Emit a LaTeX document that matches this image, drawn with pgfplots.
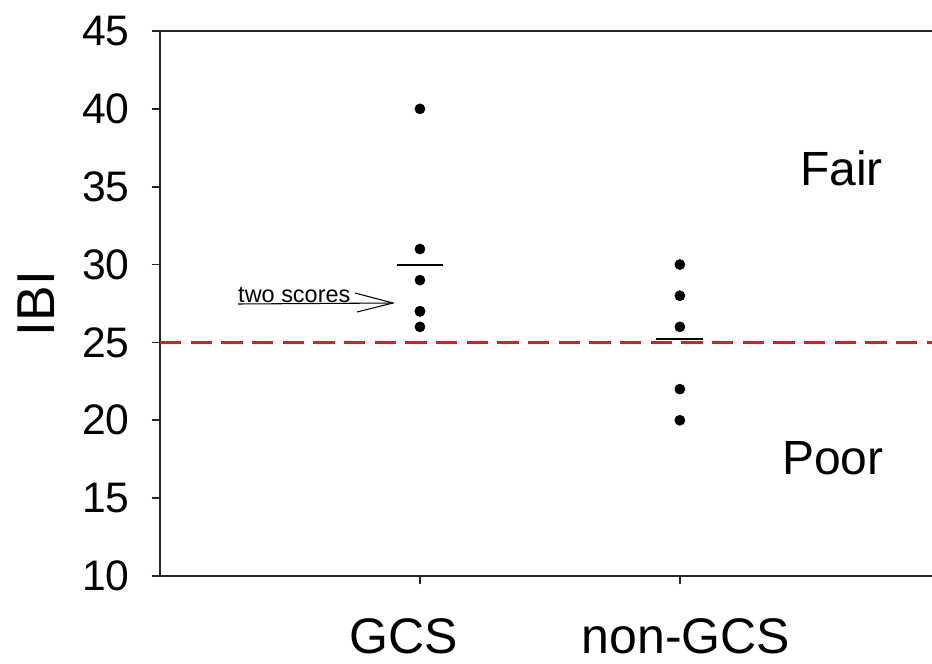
\documentclass[border=0pt]{standalone}
\usepackage{fontspec}
\setmainfont{Liberation Sans}
\usepackage{pgfplots}
\pgfplotsset{compat=1.18}
\definecolor{refred}{RGB}{205,35,35}
\begin{document}
\begin{tikzpicture}
\begin{axis}[
  at={(0,0)}, anchor=south west,
  scale only axis, width=579pt, height=408.75pt,
  xmin=0, xmax=2.97, ymin=10, ymax=45,
  axis x line=bottom, axis y line=left,
  axis line style={-, line width=1.2pt, black!85},
  tick align=outside, major tick length=6pt,
  every tick/.style={black!85, line width=1.2pt},
  xtick={1,2},
  xticklabels={GCS\hspace*{24pt}, \hspace*{9pt}non-GCS},
  ytick={10,15,20,25,30,35,40,45},
  /pgf/number format/assume math mode=true,
  yticklabel style={font=\fontsize{32}{32}\selectfont, inner sep=0pt, anchor=east, xshift=-16.5pt},
  xticklabel style={font=\fontsize{37.5}{37.5}\selectfont, inner sep=0pt, anchor=north, yshift=-26pt},
  ylabel={IBI},
  ylabel style={font=\fontsize{40}{40}\selectfont, at={(axis description cs:-0.1606,0.5)}, anchor=center, inner sep=0pt},
]
\addplot[refred, line width=2pt, dash pattern=on 16pt off 7pt] coordinates {(0,25) (2.97,25)};
\addplot[only marks, mark=*, mark size=3.8pt, black] coordinates {(1,40) (1,31) (1,29) (1,27) (1,27) (1,26)};
\addplot[only marks, mark=*, mark size=3.8pt, black] coordinates {(2,30) (2,28) (2,26) (2,22) (2,20)};
\addplot[black, line width=1.4pt] coordinates {(0.91,30) (1.09,30)};
\addplot[black, line width=1.4pt] coordinates {(1.91,25.2) (2.09,25.2)};
\draw[black!85, line width=1.2pt] (rel axis cs:0,1) -- (rel axis cs:1,1);
\node[anchor=base west, inner sep=0pt, font=\fontsize{17.6}{17.6}\selectfont] at (axis cs:0.3,27.596) {two scores};
\draw[black, line width=0.8pt] (axis cs:0.3,27.468) -- (axis cs:0.896,27.532);
\draw[black, line width=0.8pt] (axis cs:0.75,28.174) -- (axis cs:0.896,27.532) -- (axis cs:0.758,26.954);
\node[anchor=base west, inner sep=0pt, font=\fontsize{36}{36}\selectfont] at (axis cs:2.4615,35.05) {Fair};
\node[anchor=base west, inner sep=0pt, font=\fontsize{36}{36}\selectfont] at (axis cs:2.392,16.49) {Poor};
\end{axis}
\pgfresetboundingbox
\path[use as bounding box] (-120pt,-66pt) rectangle (579pt,432pt);
\end{tikzpicture}
\end{document}
